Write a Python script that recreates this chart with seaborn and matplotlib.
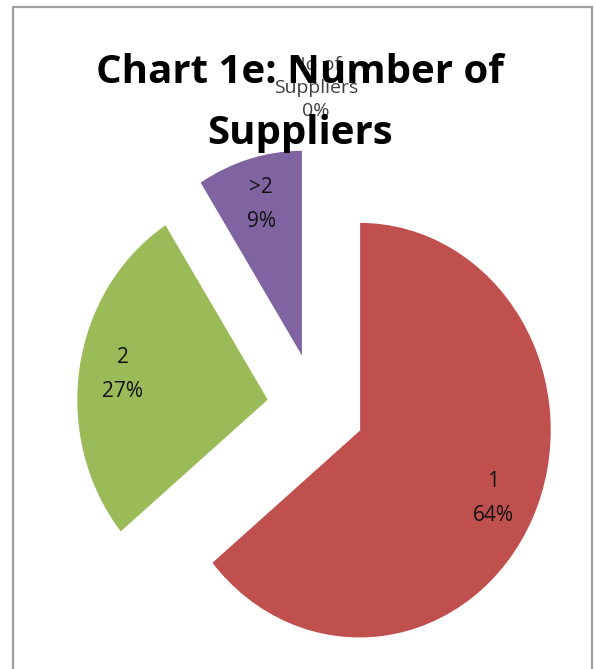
import matplotlib
matplotlib.use("Agg")
import matplotlib.pyplot as plt
import seaborn as sns
from matplotlib.patches import Rectangle

sns.set_style("white")
plt.rcParams['font.family'] = ['Open Sans', 'DejaVu Sans']

categories = ["No of\nSuppliers", "1", "2", ">2"]
values = [0, 64, 27, 9]
colors = ["#FFFFFF", "#C0504D", "#9BBB59", "#8064A2"]
explode = [0.77, 0.25, 0.25, 0.25]
title = "Chart 1e: Number of\nSuppliers"

W, H = 595, 669
fig = plt.figure(figsize=(W / 100, H / 100), dpi=100)
ax = fig.add_axes([0, 0, 1, 1])

Rx, Ry = 192.0, 208.0
cx, cy = 316.0, 408.0

labels = [f"{c}\n{v}%" for c, v in zip(categories, values)]
wedges, texts = ax.pie(values, labels=labels, colors=colors, explode=explode,
                       startangle=90, counterclock=False, labeldistance=0.77,
                       textprops=dict(fontsize=15, ha="center", va="center",
                                      linespacing=1.8, color="#111111"))
for t in texts:
    t.set_horizontalalignment("center")
texts[0].set_color("#404040")
texts[0].set_fontsize(14)
texts[0].set_linespacing(1.35)

ax.set_aspect("auto")
ax.set_xlim(-cx / Rx, (W - cx) / Rx)
ax.set_ylim(-(H - cy) / Ry, cy / Ry)
ax.axis("off")

fig.text(300 / W, 1 - 103 / H, title, ha="center", va="center", fontsize=29,
         fontweight="bold", linespacing=1.72, color="#000000",
         family=["Open Sans", "DejaVu Sans"])

fig.patches.append(Rectangle((13 / W, -0.01), (592 - 13) / W, (H - 7) / H + 0.01,
                             transform=fig.transFigure, fill=False,
                             edgecolor="#A0A0A0", linewidth=1.6))

fig.savefig("out.png", dpi=100)
